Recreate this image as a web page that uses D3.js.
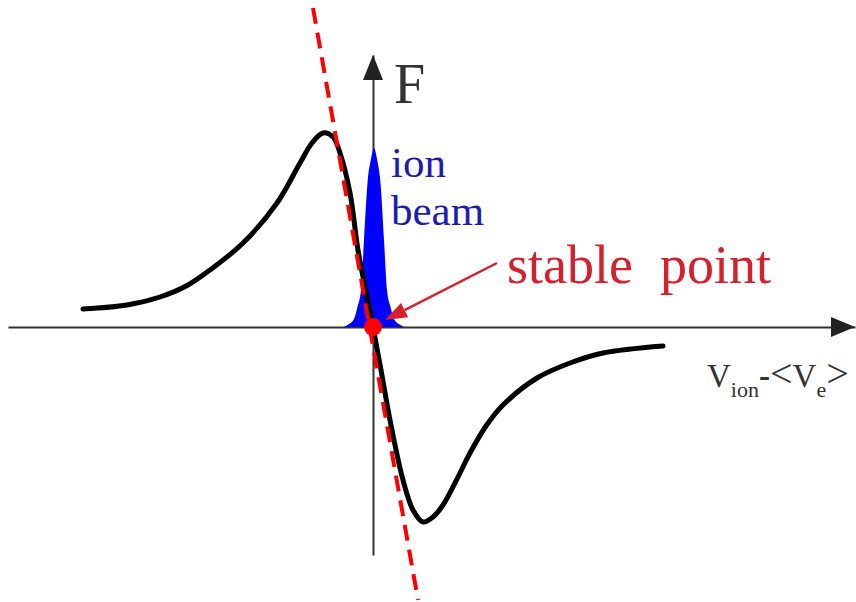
<!DOCTYPE html>
<html>
<head>
<meta charset="utf-8">
<script src="https://cdn.jsdelivr.net/npm/d3@7"></script>
<style>
  body { margin: 0; background: #fff; }
  text { font-family: "Liberation Serif", "DejaVu Serif", serif; }
</style>
</head>
<body>
<script>
// friction force curve (v, F) in arbitrary units
var curveV = [-2.90, -2.46, -2.13, -1.85, -1.63, -1.30, -0.96, -0.73, -0.61, -0.50, -0.40, -0.33, -0.23, -0.15, -0.07,
              0, 0.08, 0.17, 0.30, 0.40, 0.50, 0.60, 0.70, 0.83, 0.97, 1.13, 1.30, 1.64, 1.97, 2.30, 2.90];
var curveF = [0.18, 0.22, 0.30, 0.42, 0.57, 0.84, 1.24, 1.64, 1.84, 1.94, 1.90, 1.74, 1.34, 0.77, 0.35,
              0, -0.43, -0.93, -1.53, -1.83, -1.95, -1.90, -1.78, -1.54, -1.26, -0.99, -0.78, -0.51, -0.36, -0.26, -0.19];

// ion beam distribution
var beamV = [-0.29, -0.255, -0.19, -0.155, -0.12, -0.09, -0.055, -0.02, 0.01, 0.04, 0.075, 0.11, 0.14, 0.175, 0.21, 0.275, 0.31];
var beamF = [0, 0.02, 0.08, 0.20, 0.37, 0.87, 1.44, 1.68, 1.79, 1.68, 1.44, 0.87, 0.37, 0.20, 0.08, 0.02, 0];

// tangent at the stable point
var tangentV = [-0.60, 0.45];
var tangentF = [3.19, -2.73];

var stablePoint = [0, 0];
var arrowFrom = [1.24, 0.64], arrowTo = [0.12, 0.07];

var w = 856, h = 602;

var x = d3.scaleLinear().domain([-3.65, 4.82]).range([8, 855]);
var y = d3.scaleLinear().domain([-2.28, 2.72]).range([555, 55]);

var svg = d3.select('body').append('svg')
    .attr('width', w)
    .attr('height', h);

var axisColor = '#333';

// axes without ticks
svg.append('g')
    .attr('transform', 'translate(0,' + y(0) + ')')
    .call(d3.axisBottom(x).ticks(0).tickSizeOuter(0))
    .call(function (g) { g.select('.domain').attr('stroke', axisColor).attr('stroke-width', 2); });

svg.append('g')
    .attr('transform', 'translate(' + x(0) + ',0)')
    .call(d3.axisLeft(y).ticks(0).tickSizeOuter(0))
    .call(function (g) { g.select('.domain').attr('stroke', axisColor).attr('stroke-width', 2); });

// arrowheads
var xe = x.range()[1], ye = y.range()[1];
svg.append('path')
    .attr('d', 'M' + xe + ',' + y(0) + 'L' + (xe - 24) + ',' + (y(0) - 10) + 'L' + (xe - 24) + ',' + (y(0) + 10) + 'Z')
    .attr('fill', '#222');
svg.append('path')
    .attr('d', 'M' + x(0) + ',' + ye + 'L' + (x(0) - 10) + ',' + (ye + 25) + 'L' + (x(0) + 10) + ',' + (ye + 25) + 'Z')
    .attr('fill', '#222');

// ion beam
var beam = d3.zip(beamV, beamF);
svg.append('path')
    .datum(beam)
    .attr('fill', '#0000ff')
    .attr('d', d3.area()
      .x(function (d) { return x(d[0]); })
      .y0(y(0))
      .y1(function (d) { return y(d[1]); })
      .curve(d3.curveMonotoneX));

// friction curve
var curve = d3.zip(curveV, curveF);
svg.append('path')
    .datum(curve)
    .attr('fill', 'none')
    .attr('stroke', '#000')
    .attr('stroke-width', 5)
    .attr('stroke-linecap', 'round')
    .attr('d', d3.line()
      .x(function (d) { return x(d[0]); })
      .y(function (d) { return y(d[1]); })
      .curve(d3.curveCatmullRom.alpha(0.5)));

// tangent
svg.append('line')
    .attr('x1', x(tangentV[0])).attr('y1', y(tangentF[0]))
    .attr('x2', x(tangentV[1])).attr('y2', y(tangentF[1]))
    .attr('stroke', '#ff0000')
    .attr('stroke-width', 4)
    .attr('stroke-dasharray', '16,9');

// stable point
svg.append('circle')
    .attr('cx', x(stablePoint[0]))
    .attr('cy', y(stablePoint[1]))
    .attr('r', 9)
    .attr('fill', '#ff0000');

// annotation arrow
var red = '#d6202e';
var ax1 = x(arrowFrom[0]), ay1 = y(arrowFrom[1]), ax2 = x(arrowTo[0]), ay2 = y(arrowTo[1]);
var ang = Math.atan2(ay2 - ay1, ax2 - ax1);
var hl = 22, hw = 8;
var bx = ax2 - hl * Math.cos(ang), by = ay2 - hl * Math.sin(ang);
svg.append('line')
    .attr('x1', ax1).attr('y1', ay1)
    .attr('x2', bx).attr('y2', by)
    .attr('stroke', red)
    .attr('stroke-width', 2.5);
svg.append('path')
    .attr('d', 'M' + ax2 + ',' + ay2 +
      'L' + (bx + hw * Math.sin(ang)) + ',' + (by - hw * Math.cos(ang)) +
      'L' + (bx - hw * Math.sin(ang)) + ',' + (by + hw * Math.cos(ang)) + 'Z')
    .attr('fill', red);

// labels
svg.append('text')
    .attr('x', 394).attr('y', 103)
    .attr('font-size', 56)
    .attr('fill', axisColor)
    .text('F');

svg.append('text')
    .attr('x', 391).attr('y', 177)
    .attr('font-size', 43)
    .attr('fill', '#1c1cae')
    .text('ion');
svg.append('text')
    .attr('x', 391).attr('y', 225)
    .attr('font-size', 43)
    .attr('fill', '#1c1cae')
    .text('beam');

svg.append('text')
    .attr('x', 507).attr('y', 283)
    .attr('font-size', 54)
    .attr('fill', red)
    .style('white-space', 'pre')
    .text('stable  point');

var vl = svg.append('text')
    .attr('x', 707).attr('y', 387)
    .attr('font-size', 33)
    .attr('fill', axisColor);
vl.append('tspan').text('V');
vl.append('tspan').attr('dy', 10).attr('font-size', 22).text('ion');
vl.append('tspan').attr('dy', -10).attr('font-weight', 'bold').text('-');
vl.append('tspan').attr('font-size', 40).text('<');
vl.append('tspan').text('V');
vl.append('tspan').attr('dy', 10).attr('font-size', 22).text('e');
vl.append('tspan').attr('dy', -10).attr('font-size', 40).text('>');
</script>
</body>
</html>
